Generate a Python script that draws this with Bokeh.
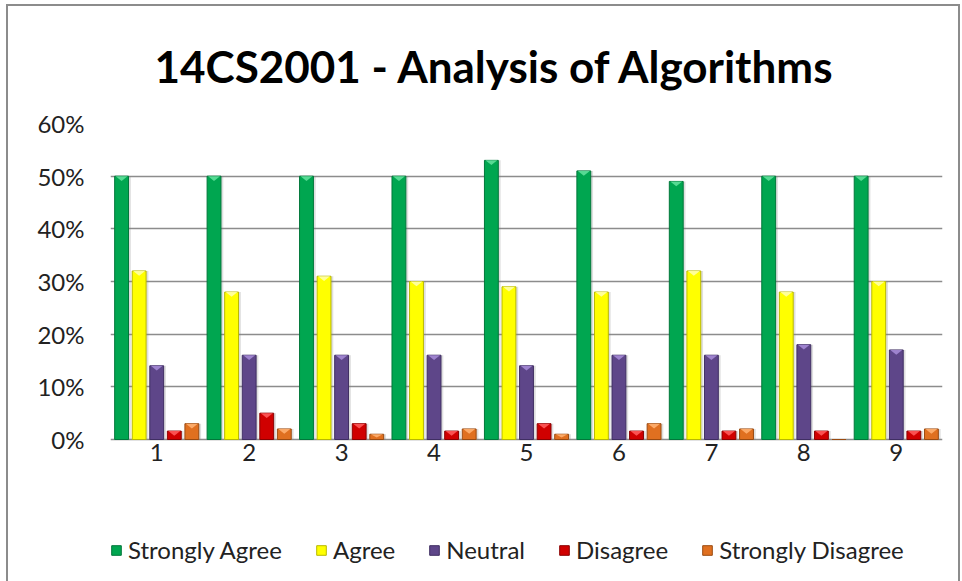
from bokeh.plotting import figure
from bokeh.models import Range1d, FixedTicker, NumeralTickFormatter, Legend, LegendItem, ColumnDataSource
from bokeh.core.properties import value
from bokeh.embed import file_html
from bokeh.resources import INLINE

categories = ["1", "2", "3", "4", "5", "6", "7", "8", "9"]
series_names = ["Strongly Agree", "Agree", "Neutral", "Disagree", "Strongly Disagree"]
strongly_agree = [0.50, 0.50, 0.50, 0.50, 0.53, 0.51, 0.49, 0.50, 0.50]
agree = [0.32, 0.28, 0.31, 0.30, 0.29, 0.28, 0.32, 0.28, 0.30]
neutral = [0.14, 0.16, 0.16, 0.16, 0.14, 0.16, 0.16, 0.18, 0.17]
disagree = [0.016, 0.05, 0.03, 0.016, 0.03, 0.016, 0.016, 0.016, 0.016]
strongly_disagree = [0.03, 0.02, 0.01, 0.02, 0.01, 0.03, 0.02, 0.0, 0.02]
y_ticks = [0.0, 0.1, 0.2, 0.3, 0.4, 0.5, 0.6]

series = [strongly_agree, agree, neutral, disagree, strongly_disagree]
fills = ["#00a650", "#ffff00", "#5e4689", "#d00000", "#e07020"]
edges = ["#00773a", "#b8b800", "#3f2e62", "#8a0000", "#9a4a10"]
bevels = ["#5fe09a", "#ffffa8", "#a58ad6", "#ff5a5a", "#ffb070"]
offsets = [-0.38, -0.19, 0.0, 0.19, 0.38]
bar_w = 0.15
FONT = "Lato"
LBL = "24px"

# The plotting frame runs down to the bottom of the chart box, so that the
# category labels and the legend can live inside it (0% sits 147px above it).
FRAME_H = 463
PX_PER_UNIT = 316 / 0.6
y_bottom = -147 / PX_PER_UNIT

p = figure(frame_width=832, frame_height=FRAME_H, output_backend="svg", toolbar_location=None,
           x_range=Range1d(0.5, 9.5), y_range=Range1d(y_bottom, 0.6),
           x_axis_location=None,
           min_border_left=102, min_border_right=16, min_border_top=112,
           min_border_bottom=0)
p.styles = {"margin-left": "8px", "margin-top": "6px", "outline": "2px solid #8c8c8c"}

p.title.text = "14CS2001 - Analysis of Algorithms"
p.title.align = "left"
p.title.offset = 44
p.title.text_font = FONT
p.title.text_font_style = "bold"
p.title.text_font_size = "44px"
p.title.text_color = "#000000"
p.title.standoff = 63

p.outline_line_color = None
p.xgrid.grid_line_color = None
p.ygrid.grid_line_color = "#8c8c8c"
p.ygrid.grid_line_width = 1.5
p.ygrid.ticker = FixedTicker(ticks=y_ticks)

p.yaxis.ticker = FixedTicker(ticks=y_ticks)
p.yaxis.formatter = NumeralTickFormatter(format="0%")
p.yaxis.axis_line_color = None
p.yaxis.major_tick_line_color = None
p.yaxis.minor_tick_line_color = None
p.yaxis.major_label_standoff = 20
p.yaxis.major_label_text_font = FONT
p.yaxis.major_label_text_font_size = LBL
p.yaxis.major_label_text_color = "#222222"

xs = list(range(1, len(categories) + 1))

items = []
bevel_depth = 0.009
for name, vals, fc, ec, bc, off in zip(series_names, series, fills, edges, bevels, offsets):
    xpos = [x + off for x in xs]
    # soft shadow to the right of each bar
    p.vbar(x=[x + 0.025 for x in xpos], top=vals, bottom=0, width=bar_w,
           fill_color="#7f7f7f", fill_alpha=0.25, line_color=None)
    src = ColumnDataSource(dict(x=xpos, top=vals))
    r = p.vbar(x="x", top="top", bottom=0, width=bar_w, source=src,
               fill_color=fc, line_color=ec, line_width=1)
    # bevel triangle at the top of each bar (derived from the data)
    px, py = [], []
    for xv, v in zip(xpos, vals):
        if v <= 0:
            continue
        px.append([xv - bar_w / 2 + 0.01, xv + bar_w / 2 - 0.01, xv])
        py.append([v, v, v - min(bevel_depth, v * 0.6)])
    if px:
        p.patches(px, py, fill_color=bc, line_color=None, fill_alpha=0.9)
    items.append(LegendItem(label=name, renderers=[r]))

# category labels under the 0% baseline
p.text(x=xs, y=[0] * len(xs), text=categories, text_align="center",
       text_baseline="middle", y_offset=13, text_font=value(FONT),
       text_font_size=LBL, text_color="#222222")

legend = Legend(items=items, orientation="horizontal", location=(0, 22),
                label_text_font=FONT, label_text_font_size=LBL,
                label_text_color="#222222", glyph_width=12, glyph_height=12,
                label_standoff=6, spacing=33, border_line_color=None,
                background_fill_alpha=0, margin=0, padding=4)
p.add_layout(legend, "center")

open("out.html", "w").write(file_html(p, INLINE))
